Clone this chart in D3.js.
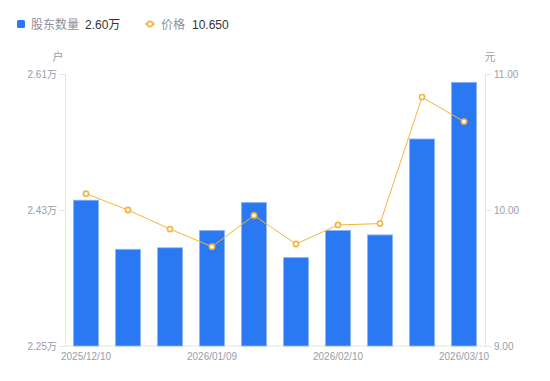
<!DOCTYPE html>
<html><head><meta charset="utf-8">
<script src="https://cdn.jsdelivr.net/npm/d3@7"></script>
<style>
body{margin:0;background:#fff;font-family:"Liberation Sans","Noto Sans CJK SC",sans-serif;}
svg text{font-family:"Liberation Sans","Noto Sans CJK SC",sans-serif;}
</style></head>
<body><svg id="c" width="550" height="381"></svg>
<script>
const dates = ["2025/12/10","2025/12/19","2025/12/31","2026/01/09","2026/01/20","2026/01/30","2026/02/10","2026/02/20","2026/02/27","2026/03/10"];
const holders = [2.443, 2.378, 2.380, 2.403, 2.440, 2.367, 2.403, 2.397, 2.524, 2.599];
const prices = [10.12, 10.00, 9.86, 9.73, 9.96, 9.75, 9.89, 9.90, 10.83, 10.65];
const leftTicks = [2.25, 2.43, 2.61];
const rightTicks = [9.00, 10.00, 11.00];
const shownDates = ["2025/12/10","2026/01/09","2026/02/10","2026/03/10"];

const svg = d3.select("#c");
const m = {l:65, r:485, t:74, b:346};
const x = d3.scaleBand().domain(dates).range([m.l, m.r]).paddingInner(0.4).paddingOuter(0.2);
const yL = d3.scaleLinear().domain([2.25, 2.61]).range([m.b, m.t]);
const yR = d3.scaleLinear().domain([9, 11]).range([m.b, m.t]);
const axisColor = "#e3e5ea", labelColor = "#9a9cab";

// axes
const gl = svg.append("g").attr("transform",`translate(${m.l},0)`)
  .call(d3.axisLeft(yL).tickValues(leftTicks).tickSize(6).tickPadding(2).tickFormat(d=>d3.format(".2f")(d)+"万"));
const gr = svg.append("g").attr("transform",`translate(${m.r},0)`)
  .call(d3.axisRight(yR).tickValues(rightTicks).tickSize(6).tickPadding(3).tickFormat(d3.format(".2f")));
const gx = svg.append("g").attr("transform",`translate(0,${m.b})`)
  .call(d3.axisBottom(x).tickValues(shownDates).tickSize(0).tickPadding(7));
[gl,gr,gx].forEach(g=>{
  g.selectAll("path,line").attr("stroke",axisColor);
  g.selectAll("text").attr("fill",labelColor).style("font-size","10px");
});
gx.select("path").attr("d",`M${m.l},0H${m.r}`);

// unit labels
svg.append("text").attr("x",58).attr("y",61).attr("text-anchor","middle").attr("fill",labelColor).style("font-size","11px").text("户");
svg.append("text").attr("x",490).attr("y",61).attr("text-anchor","middle").attr("fill",labelColor).style("font-size","11px").text("元");

// bars
svg.append("g").selectAll("rect").data(dates).join("rect")
  .attr("x",d=>x(d)).attr("width",x.bandwidth())
  .attr("y",(d,i)=>yL(holders[i])).attr("height",(d,i)=>m.b-yL(holders[i]))
  .attr("fill","#2a78f2").attr("stroke","#8fb8f7").attr("stroke-width",0.8);

// line
const lineColor = "#f7b23b";
const line = d3.line().x((d,i)=>x(dates[i])+x.bandwidth()/2).y(d=>yR(d));
svg.append("path").datum(prices).attr("d",line).attr("fill","none").attr("stroke",lineColor).attr("stroke-width",1);
svg.append("g").selectAll("circle").data(prices).join("circle")
  .attr("cx",(d,i)=>x(dates[i])+x.bandwidth()/2).attr("cy",d=>yR(d)).attr("r",2.6)
  .attr("fill","#fff").attr("stroke",lineColor).attr("stroke-width",1.6);

// legend
const lg = svg.append("g");
lg.append("rect").attr("x",17).attr("y",20).attr("width",8).attr("height",8).attr("rx",1.5).attr("fill","#2a78f2");
lg.append("text").attr("x",31).attr("y",28.5).attr("fill","#8d8f9c").style("font-size","12px").text("股东数量");
lg.append("text").attr("x",85).attr("y",28.5).attr("fill","#333").style("font-size","12px").text("2.60万");
lg.append("line").attr("x1",145).attr("x2",155).attr("y1",24).attr("y2",24).attr("stroke",lineColor).attr("stroke-width",1.5);
lg.append("circle").attr("cx",150).attr("cy",24).attr("r",2.6).attr("fill","#fff").attr("stroke",lineColor).attr("stroke-width",1.6);
lg.append("text").attr("x",161).attr("y",28.5).attr("fill","#8d8f9c").style("font-size","12px").text("价格");
lg.append("text").attr("x",192).attr("y",28.5).attr("fill","#333").style("font-size","12px").text("10.650");
</script></body></html>
